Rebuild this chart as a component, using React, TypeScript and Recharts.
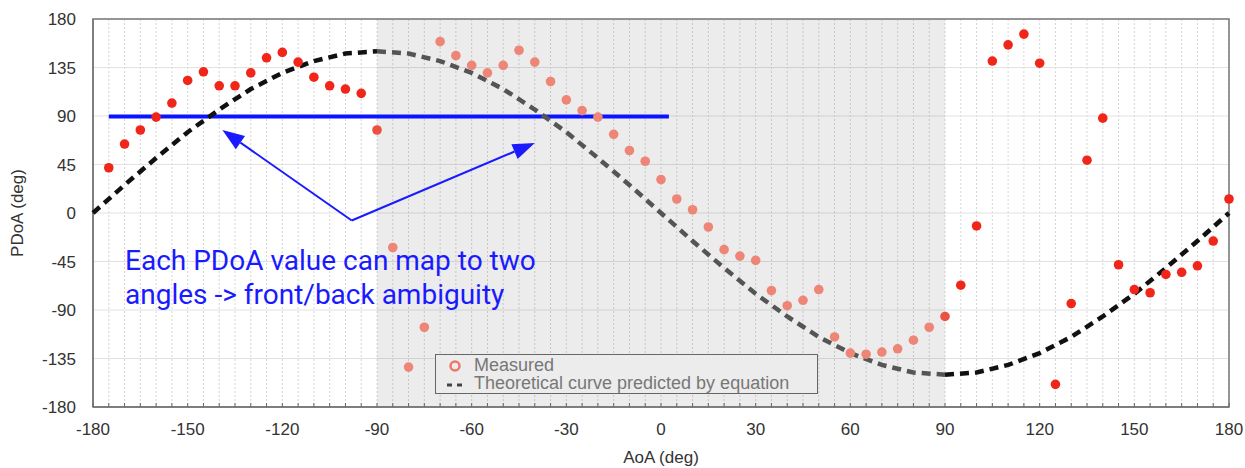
import React from "react";
import {
  ScatterChart, Scatter, XAxis, YAxis, CartesianGrid, ReferenceArea, ReferenceLine,
} from "recharts";

// Measured PDoA for each AoA step (deg)
const AOA = [
  -175, -170, -165, -160, -155, -150, -145, -140, -135, -130, -125, -120,
  -115, -110, -105, -100, -95, -90, -85, -80, -75, -70, -65, -60,
  -55, -50, -45, -40, -35, -30, -25, -20, -15, -10, -5, 0,
  5, 10, 15, 20, 25, 30, 35, 40, 45, 50, 55, 60,
  65, 70, 75, 80, 85, 90, 95, 100, 105, 110, 115, 120,
  125, 130, 135, 140, 145, 150, 155, 160, 165, 170, 175, 180,
];
const PDOA = [
  42, 64, 77, 89, 102, 123, 131, 118, 118, 130, 144, 149,
  140, 126, 118, 115, 111, 77, -32, -143, -106, 159, 146, 137,
  130, 137, 151, 140, 122, 105, 95, 89, 73, 58, 48, 31,
  13, 3, -13, -34, -40, -44, -72, -86, -81, -71, -115, -130,
  -131, -129, -126, -118, -106, -96, -67, -12, 141, 156, 166, 139,
  -159, -84, 49, 88, -48, -71, -74, -57, -55, -49, -26, 13,
];

// Theoretical curve
const CURVE_AOA = [
  -180, -170, -160, -150, -140, -130, -120, -110, -100, -90,
  -80, -70, -60, -50, -40, -30, -20, -10, 0,
  10, 20, 30, 40, 50, 60, 70, 80, 90,
  100, 110, 120, 130, 140, 150, 160, 170, 180,
];
const CURVE_PDOA = [
  0, 26, 51, 75, 96, 115, 130, 141, 148, 150,
  148, 141, 130, 115, 96, 75, 51, 26, 0,
  -26, -51, -75, -96, -115, -130, -141, -148, -150,
  -148, -141, -130, -115, -96, -75, -51, -26, 0,
];

const X_TICKS = [
  -180, -175, -170, -165, -160, -155, -150, -145, -140, -135, -130, -125,
  -120, -115, -110, -105, -100, -95, -90, -85, -80, -75, -70, -65,
  -60, -55, -50, -45, -40, -35, -30, -25, -20, -15, -10, -5,
  0, 5, 10, 15, 20, 25, 30, 35, 40, 45, 50, 55,
  60, 65, 70, 75, 80, 85, 90, 95, 100, 105, 110, 115,
  120, 125, 130, 135, 140, 145, 150, 155, 160, 165, 170, 175, 180,
];
const X_LABELS = [-180, -150, -120, -90, -60, -30, 0, 30, 60, 90, 120, 150, 180];
const Y_TICKS = [-180, -135, -90, -45, 0, 45, 90, 135, 180];

const SHADE = [-90, 90];
const LEVEL = 89.5;
const LEVEL_SPAN = [-175, 2.5];
const ARROW_FROM = { x: -98, y: -7 };
const ARROW_TIPS = [{ x: -139, y: 77 }, { x: -40, y: 65 }];

const measured = AOA.map((x, i) => ({ x, y: PDOA[i] }));
const curve = CURVE_AOA.map((x, i) => ({ x, y: CURVE_PDOA[i] }));
const curveLeft = curve.filter((d) => d.x <= SHADE[0]);
const curveMid = curve.filter((d) => d.x >= SHADE[0] && d.x <= SHADE[1]);
const curveRight = curve.filter((d) => d.x >= SHADE[1]);

const AXIS_FONT = "'Liberation Sans', Arial, sans-serif";
const BLUE = "#1a1aff";

function dotColor(x: number) {
  if (x > SHADE[0] && x < SHADE[1]) return "#ee8677";
  if (x === SHADE[0] || x === SHADE[1]) return "#ec5040";
  return "#f0261a";
}

const Dot = (p: any) => (
  <circle cx={p.cx} cy={p.cy} r={4.8} fill={dotColor(p.payload.x)} />
);

const NoDot = () => <g />;

function XTick(p: any) {
  const { x, y, payload } = p;
  const v = payload.value;
  return (
    <g>
      <line x1={x} x2={x} y1={y} y2={y - 4} stroke="#666" strokeWidth={1} />
      {X_LABELS.includes(v) && (
        <text x={x} y={y + 22} dy="0.35em" textAnchor="middle"
          fontSize={17} fill="#333" fontFamily={AXIS_FONT}>
          {v}
        </text>
      )}
    </g>
  );
}

function Arrow(p: any) {
  const { x1, y1, x2, y2 } = p;
  const ang = Math.atan2(y2 - y1, x2 - x1);
  const len = 22;
  const half = 8;
  const bx = x2 - len * Math.cos(ang);
  const by = y2 - len * Math.sin(ang);
  const px = -Math.sin(ang) * half;
  const py = Math.cos(ang) * half;
  return (
    <g>
      <line x1={x1} y1={y1} x2={bx} y2={by} stroke={BLUE} strokeWidth={2} />
      <polygon points={`${x2},${y2} ${bx + px},${by + py} ${bx - px},${by - py}`} fill={BLUE} />
    </g>
  );
}

export default function App() {
  return (
    <div style={{ position: "absolute", left: 0, top: 0, width: 1245, height: 468, background: "#fff" }}>
      <ScatterChart width={1245} height={468} margin={{ top: 19, right: 16, bottom: 31, left: 0 }}>
        <CartesianGrid horizontal={false} stroke="#d6d6d6" strokeDasharray="2 2" />
        <CartesianGrid vertical={false} stroke="#e2e2e2" />
        <ReferenceArea x1={SHADE[0]} x2={SHADE[1]} y1={-180} y2={180} fill="#000" fillOpacity={0.075} stroke="none" />
        <XAxis type="number" dataKey="x" domain={[-180, 180]} ticks={X_TICKS} interval={0} height={30}
          tickSize={0} tickMargin={0} tick={<XTick />} axisLine={{ stroke: "#777", strokeWidth: 1.5 }} />
        <YAxis type="number" dataKey="y" domain={[-180, 180]} ticks={Y_TICKS} interval={0} width={93}
          tickSize={0} tickMargin={17} axisLine={{ stroke: "#777", strokeWidth: 1.5 }}
          tick={{ fontSize: 17, fill: "#333", fontFamily: AXIS_FONT }} />
        <Scatter data={curveLeft} shape={<NoDot />} isAnimationActive={false}
          line={{ stroke: "#111", strokeWidth: 4.5, strokeDasharray: "9 6" }} />
        <Scatter data={curveMid} shape={<NoDot />} isAnimationActive={false}
          line={{ stroke: "#555", strokeWidth: 4.5, strokeDasharray: "9 6" }} />
        <Scatter data={curveRight} shape={<NoDot />} isAnimationActive={false}
          line={{ stroke: "#111", strokeWidth: 4.5, strokeDasharray: "9 6" }} />
        <Scatter data={measured} shape={<Dot />} isAnimationActive={false} />
        <ReferenceLine segment={[{ x: LEVEL_SPAN[0], y: LEVEL }, { x: LEVEL_SPAN[1], y: LEVEL }]}
          stroke="#0a14ff" strokeWidth={4} />
        {ARROW_TIPS.map((t, i) => (
          <ReferenceLine key={i} segment={[ARROW_FROM, t]} shape={Arrow} />
        ))}
        <ReferenceArea x1={-180} x2={180} y1={-180} y2={180} fill="none" stroke="#777" strokeWidth={1.5} />
      </ScatterChart>

      <div style={{
        position: "absolute", left: 125, top: 244, color: BLUE, fontFamily: "Roboto, sans-serif",
        fontSize: 28, lineHeight: "34px", whiteSpace: "nowrap",
      }}>
        Each PDoA value can map to two<br />angles -&gt; front/back ambiguity
      </div>

      <div style={{
        position: "absolute", left: 435, top: 354, width: 383, height: 40, border: "1px solid #666",
        boxSizing: "border-box", background: "#ececec", fontFamily: AXIS_FONT, fontSize: 18, color: "#777",
      }}>
        <svg width={40} height={40} style={{ position: "absolute", left: 0, top: 0 }}>
          <circle cx={19} cy={11} r={4.5} fill="none" stroke="#ee7767" strokeWidth={2.5} />
          <line x1={11} x2={28} y1={30} y2={30} stroke="#444" strokeWidth={3} strokeDasharray="5 5" />
        </svg>
        <div style={{ position: "absolute", left: 38, top: 1, lineHeight: "19px", whiteSpace: "nowrap" }}>Measured</div>
        <div style={{ position: "absolute", left: 38, top: 19, lineHeight: "19px", whiteSpace: "nowrap" }}>
          Theoretical curve predicted by equation
        </div>
      </div>

      <div style={{
        position: "absolute", left: 561, top: 448, width: 200, textAlign: "center",
        fontFamily: AXIS_FONT, fontSize: 17, color: "#333", lineHeight: "20px",
      }}>
        AoA (deg)
      </div>
      <div style={{
        position: "absolute", left: -82, top: 203, width: 200, height: 20, textAlign: "center",
        fontFamily: AXIS_FONT, fontSize: 17, color: "#333", lineHeight: "20px", transform: "rotate(-90deg)",
      }}>
        PDoA (deg)
      </div>
    </div>
  );
}
